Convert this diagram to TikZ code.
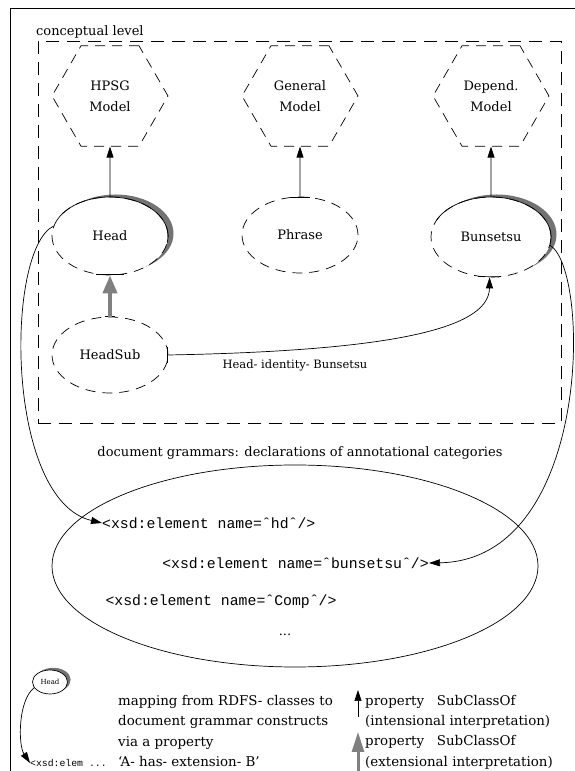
\documentclass[tikz,border=0pt]{standalone}
\usepackage{fontspec}
\setmainfont{DejaVu Serif}
\newfontfamily\xsdfont{Liberation Mono}
\usetikzlibrary{shapes.geometric,arrows.meta,backgrounds}
\definecolor{arrgray}{RGB}{128,128,128}
\definecolor{shadegray}{RGB}{115,115,115}
\begin{document}
\begin{tikzpicture}[x=1pt,y=1pt,
  every node/.style={inner sep=0pt},
  thin line/.style={line width=0.7pt},
  hexa/.style={regular polygon, regular polygon sides=6, minimum size=116pt, draw,
    dash pattern=on 10pt off 7pt, align=center, thin line,
    font=\fontsize{13}{21}\selectfont},
  cls/.style={ellipse, draw, dash pattern=on 10pt off 7pt, fill=white,
    minimum width=116pt, minimum height=78pt, thin line,
    font=\fontsize{13}{15}\selectfont},
  blk/.style={-{Triangle[width=7pt,length=11pt]}, thin line},
  gry/.style={-{Triangle[width=14pt,length=18pt]}, line width=4pt, draw=arrgray, fill=arrgray},
  lgry/.style={-{Triangle[width=12pt,length=20pt]}, line width=3pt, draw=arrgray, fill=arrgray},
  maintext/.style={font=\fontsize{13}{15}\selectfont},
  legtext/.style={font=\fontsize{13.4}{20.5}\selectfont, align=left},
  xsd/.style={font=\xsdfont\fontsize{14.8}{16}\selectfont},
  tick/.style={thin line}
]
\useasboundingbox (0,0) rectangle (575,771);
% outer frame
\draw[thin line] (10,0) -- (10,763) -- (575,763);

% conceptual level box
\node[draw, dash pattern=on 13pt off 8pt, thin line, minimum width=523pt, minimum height=382pt, anchor=north west] (concept) at (38,730) {};
\node[maintext, anchor=base west] (conlabel) at (36,735) {conceptual level};

% hexagons
\node[hexa] (hpsg) at (110,675) {HPSG\\Model};
\node[hexa] (general) at (300,675) {General\\Model};
\node[hexa] (depend) at (491,675) {Depend.\\Model};

% class ellipses
\node[cls] (head) at (110,535) {Head};
\node[cls, minimum height=76pt] (phrase) at (300,536) {Phrase};
\node[cls, minimum width=120pt, minimum height=80pt] (bunsetsu) at (491,534) {Bunsetsu};
\node[cls, minimum height=76pt] (headsub) at (110,416) {HeadSub};

% shading crescents
\begin{scope}[on background layer]
  \fill[shadegray] ([shift={(5.5,2.5)}]head.center) ellipse[x radius=58, y radius=39];
  \fill[shadegray] ([shift={(5.5,2.5)}]bunsetsu.center) ellipse[x radius=60, y radius=40];
\end{scope}
\draw[thin line] (head.center) ++(155:58 and 39) arc[start angle=155, end angle=-10, x radius=58, y radius=39];
\draw[thin line] (bunsetsu.center) ++(155:60 and 40) arc[start angle=155, end angle=-10, x radius=60, y radius=40];

% attachment ticks
\draw[tick] (phrase.75) -- (phrase.105);
\draw[tick] (head.-70) -- (head.-110);
\draw[tick] (headsub.83) -- (headsub.97);
\draw[tick] (headsub.8) -- (headsub.-8);
\draw[tick] (bunsetsu.-78) -- (bunsetsu.-108);

% subclass arrows
\draw[blk] (head.north) -- (hpsg.south);
\draw[blk] (phrase.north) -- (general.south);
\draw[blk] (bunsetsu.north) -- (depend.south);
\draw[gry] (headsub.north) -- (head.south);

% property
\draw[blk] (headsub.east) .. controls (380,420) and (489,440) .. (bunsetsu.-92);
\node[font=\fontsize{11.5}{13}\selectfont] (hib) at (295,406) {Head- identity- Bunsetsu};

% document grammars
\node[maintext] (dglabel) at (300,318) {document grammars: declarations of annotational categories};
\node[draw, ellipse, thin line, minimum width=486pt, minimum height=202pt] (grammar) at (295,205) {};
\node[xsd, anchor=west] (xhd) at (102,248) {<xsd:element name=ˆhdˆ/>};
\node[xsd, anchor=east] (xbun) at (429,208) {<xsd:element name=ˆbunsetsuˆ/>};
\node[xsd] (xcomp) at (221,169) {<xsd:element name=ˆCompˆ/>};
\node[maintext] (xdots) at (285,136) {...};

% mappings
\draw[blk] (head.170) .. controls (5,521) and (5,271) .. (xhd.west);
\draw[blk] (bunsetsu.-8) .. controls (591,501) and (592,211) .. (xbun.east);

% legend
\node[ellipse, draw, fill=white, thin line, minimum width=35pt, minimum height=24pt, font=\fontsize{7}{8}\selectfont] (lhead) at (50,89) {Head};
\begin{scope}[on background layer]
  \fill[shadegray] ([shift={(3.2,2.2)}]lhead.center) ellipse[x radius=17.5, y radius=12];
\end{scope}
\node[xsd, font=\xsdfont\fontsize{9.8}{11}\selectfont, anchor=west] (lxsd) at (30,8) {<xsd:elem ...};
\draw[blk] (lhead.200) .. controls (18,71) and (18,26) .. (lxsd.west);

\node[legtext, anchor=north west] (maptext) at (118,76) {mapping from RDFS- classes to\\document grammar constructs\\via a property\\`A- has- extension- B'};

\coordinate (ib) at (358,54);
\coordinate (it) at (358,81);
\draw[blk] (ib) -- (it);
\node[legtext, anchor=north west] (inttext) at (365,76) {property\ \ \ SubClassOf\\(intensional interpretation)};
\coordinate (eb) at (358,0);
\coordinate (et) at (358,39);
\draw[lgry] (eb) -- (et);
\node[legtext, anchor=north west] (exttext) at (365,35.5) {property\ \ \ SubClassOf\\(extensional interpretation)};
\end{tikzpicture}
\end{document}
